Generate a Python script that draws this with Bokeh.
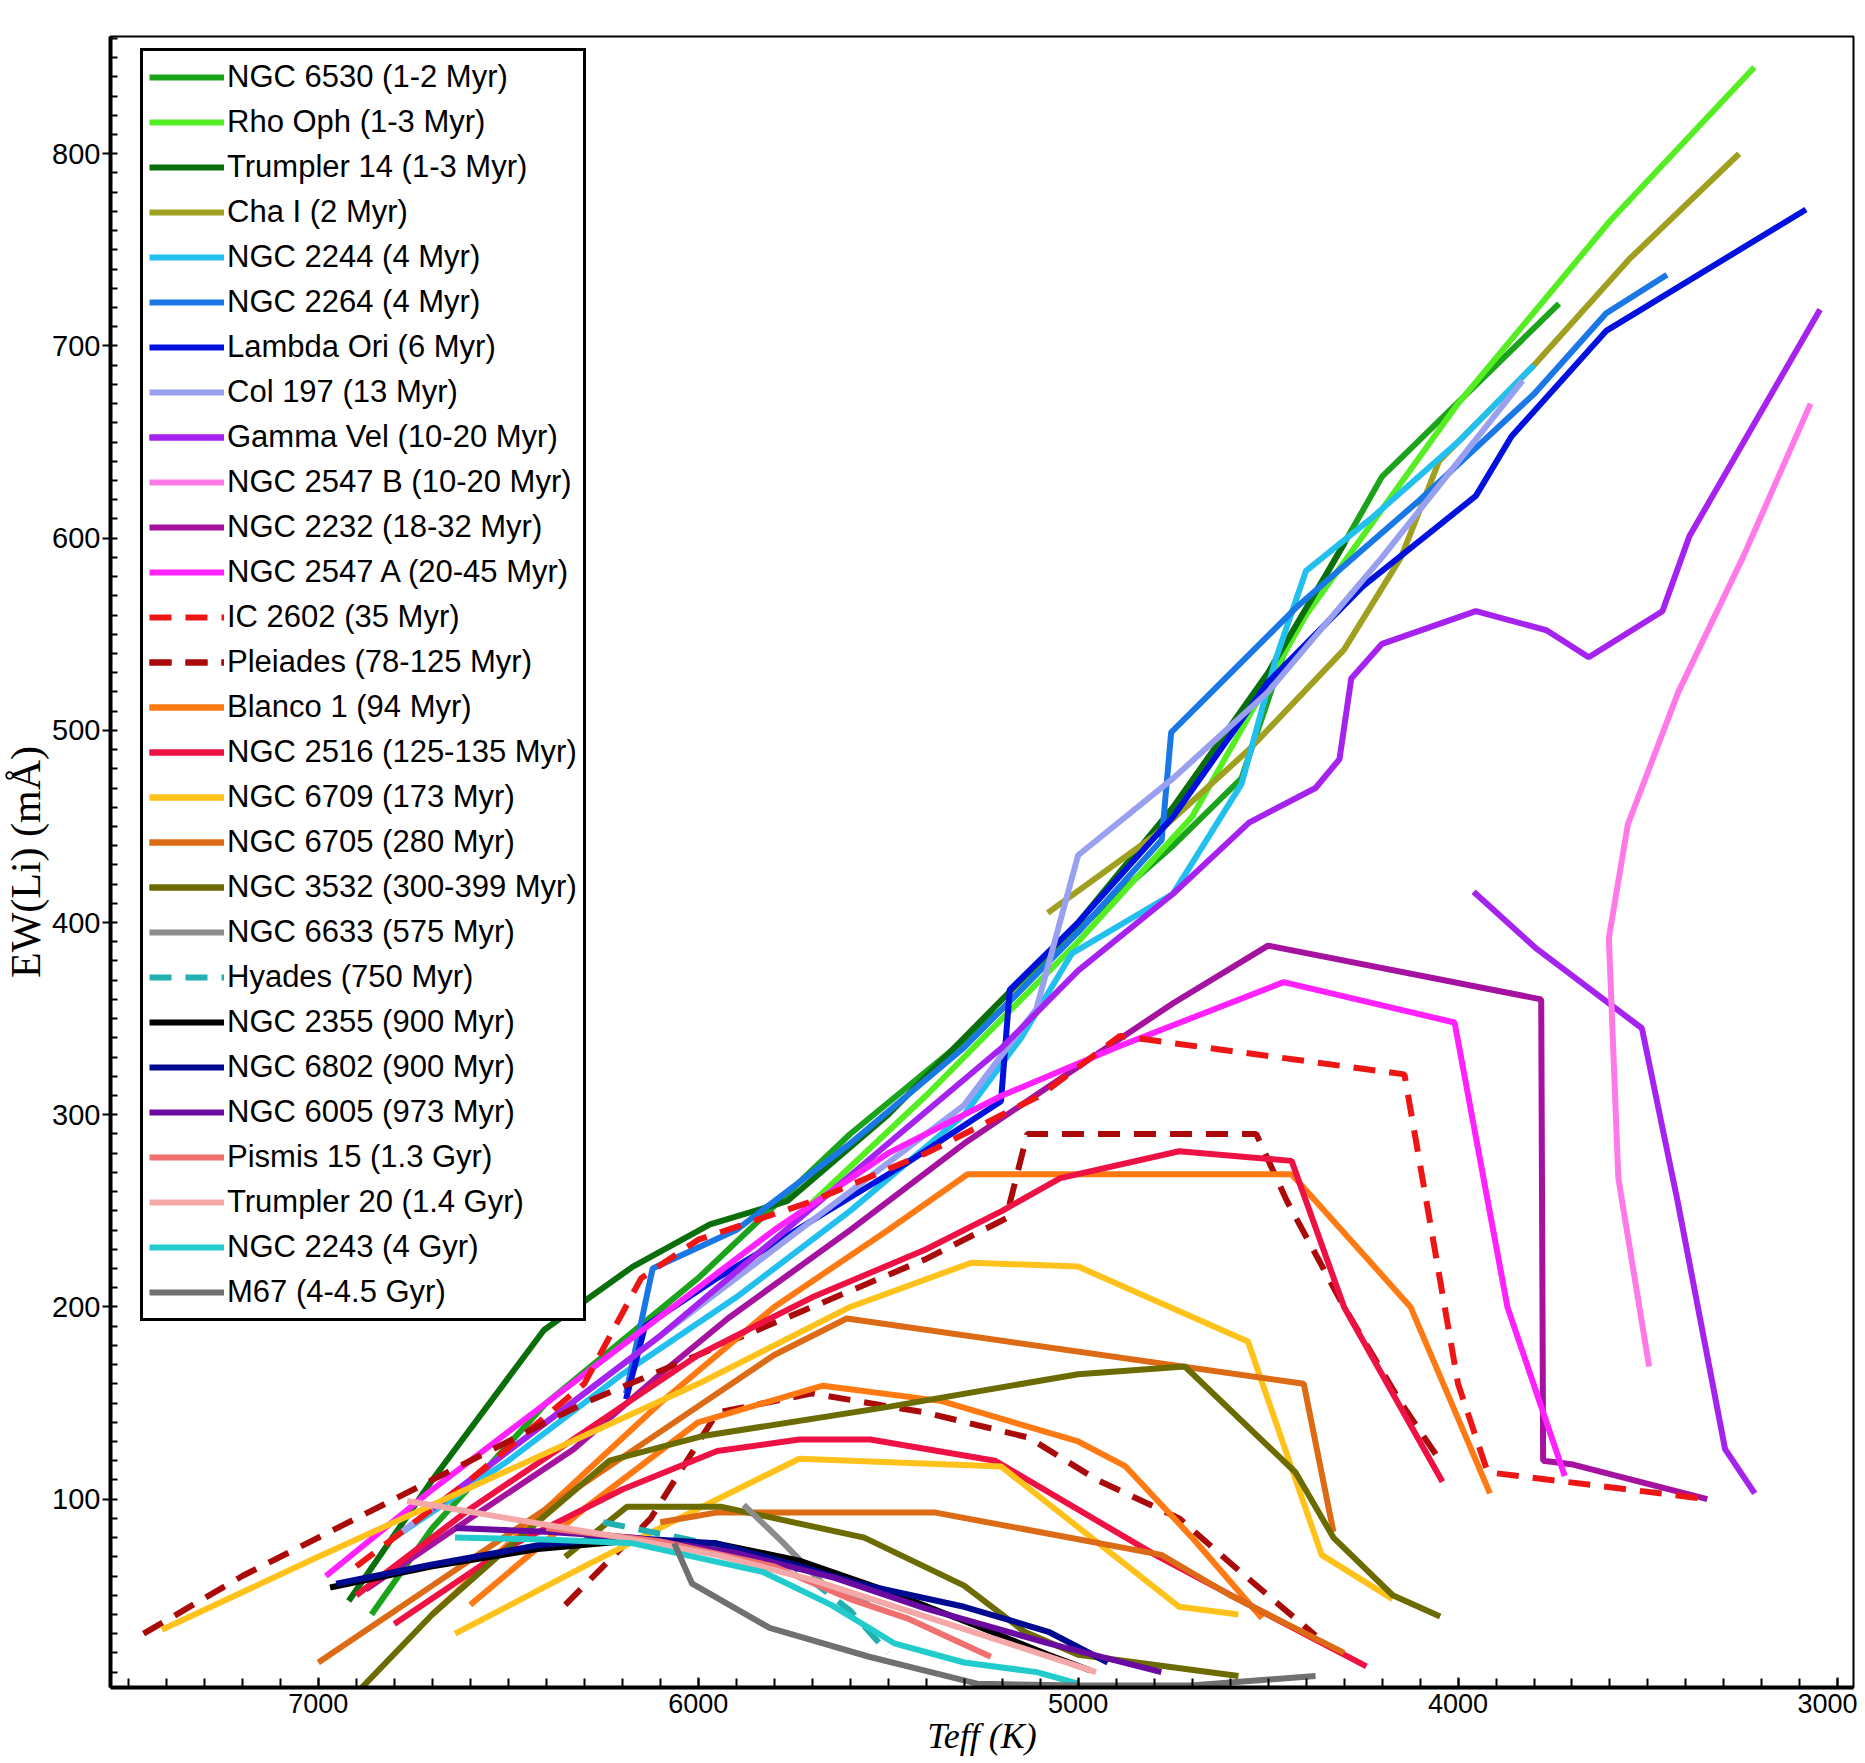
from bokeh.plotting import figure
from bokeh.models import Range1d, SingleIntervalTicker
from bokeh.embed import file_html
from bokeh.resources import INLINE

# ---- data (Teff in K, EW(Li) in mA) ----
ngc6530_t = [6860, 6700, 6400, 6000, 5600, 5200, 4980, 4750, 4570, 4450, 4200, 3734]
ngc6530_ew = [40, 85, 150, 215, 290, 355, 400, 440, 475, 545, 632, 722]
rhooph_t = [5750, 5400, 5000, 4700, 4400, 4000, 3600, 3220]
rhooph_ew = [245, 310, 390, 455, 560, 670, 765, 845]
trumpler14_t = [6920, 6700, 6406, 6172, 5969, 5766, 5500, 5250, 5000, 4750, 4500, 4297]
trumpler14_ew = [47, 110, 188, 221, 243, 255, 300, 350, 400, 460, 530, 598]
chai_t = [5080, 4800, 4550, 4300, 4150, 4050, 3800, 3550, 3260]
chai_ew = [405, 445, 490, 542, 590, 640, 690, 745, 800]
ngc2244_t = [6800, 6500, 6200, 5900, 5600, 5300, 5150, 5016, 4750, 4570, 4480, 4400, 4230, 4000, 3800]
ngc2244_ew = [80, 120, 165, 205, 250, 300, 340, 384, 415, 472, 537, 583, 610, 650, 690]
ngc2264_t = [6190, 6120, 5900, 5600, 5300, 5000, 4780, 4755, 4420, 4100, 3800, 3610, 3450]
ngc2264_ew = [155, 220, 240, 285, 335, 395, 443, 499, 565, 620, 675, 717, 737]
lambdaori_t = [6190, 6140, 5950, 5700, 5450, 5203, 5180, 5000, 4750, 4500, 4250, 3953, 3859, 3609, 3084]
lambdaori_ew = [152, 190, 215, 245, 275, 307, 365, 400, 455, 525, 575, 622, 653, 708, 771]
col197_t = [6800, 6500, 6200, 5900, 5600, 5300, 5110, 5000, 4750, 4500, 4200, 3830]
col197_ew = [80, 125, 170, 215, 260, 305, 355, 435, 475, 520, 590, 682]
gammavel_t = [6700, 6400, 6100, 5800, 5500, 5200, 5000, 4750, 4550, 4375, 4312, 4281, 4200, 3953, 3766, 3656, 3462, 3391, 3047]
gammavel_ew = [95, 140, 185, 235, 285, 335, 375, 415, 452, 470, 485, 527, 545, 562, 552, 538, 562, 601, 719]
gammavel2_t = [3959, 3797, 3516, 3422, 3297, 3219]
gammavel2_ew = [416, 387, 345, 255, 126, 103]
ngc2547b_t = [3072, 3250, 3420, 3553, 3603, 3578, 3497]
ngc2547b_ew = [670, 590, 520, 451, 392, 267, 169]
ngc2232_t = [6875, 6600, 6328, 6100, 5922, 5600, 5300, 5000, 4750, 4500, 3781, 3776, 3697, 3344]
ngc2232_ew = [53, 90, 126, 165, 194, 240, 285, 325, 358, 388, 360, 120, 118, 100]
ngc2547a_t = [6980, 6700, 6400, 6100, 5800, 5500, 5200, 4900, 4459, 4009, 3870, 3719]
ngc2547a_ew = [60, 105, 150, 195, 240, 280, 310, 335, 369, 348, 200, 112]
ic2602_t = [6900, 6600, 6300, 6150, 6000, 5700, 5400, 5100, 4890, 4141, 4000, 3922, 3344]
ic2602_ew = [65, 110, 160, 215, 235, 255, 280, 310, 341, 321, 160, 114, 100]
pleiades_t = [7460, 7200, 6900, 6600, 6300, 6000, 5700, 5400, 5190, 5134, 4531, 4450, 4300, 4150, 4047]
pleiades_ew = [30, 60, 90, 120, 150, 175, 200, 225, 246, 290, 290, 255, 200, 150, 120]
pleiades2_t = [6350, 6125, 5950, 5700, 5400, 5130, 4950, 4734, 4560, 4375]
pleiades2_ew = [45, 90, 145, 155, 145, 132, 110, 90, 60, 29]
blanco1_t = [6700, 6400, 6100, 5800, 5500, 5291, 4438, 4125, 3916]
blanco1_ew = [40, 95, 150, 200, 240, 269, 269, 200, 103]
blanco1b_t = [6600, 6300, 6000, 5672, 5359, 5000, 4875, 4700, 4516]
blanco1b_ew = [45, 95, 140, 159, 151, 130, 117, 80, 38]
ngc2516_t = [6900, 6600, 6300, 6000, 5700, 5400, 5200, 5047, 4734, 4438, 4300, 4041]
ngc2516_ew = [50, 95, 135, 175, 205, 230, 250, 267, 281, 276, 200, 109]
ngc2516b_t = [6800, 6500, 6200, 5950, 5734, 5547, 5219, 4797, 4550, 4241]
ngc2516b_ew = [35, 75, 105, 125, 131, 131, 120, 71, 45, 13]
ngc6709_t = [7412, 7000, 6500, 6000, 5600, 5281, 5000, 4553, 4359, 4172]
ngc6709_ew = [32, 70, 115, 160, 200, 223, 221, 182, 71, 48]
ngc6709b_t = [6640, 6300, 6000, 5734, 5203, 4734, 4578]
ngc6709b_ew = [30, 65, 95, 121, 117, 44, 40]
ngc6705_t = [7000, 6700, 6400, 6100, 5800, 5609, 4406, 4328]
ngc6705_ew = [15, 55, 95, 135, 175, 194, 160, 83]
ngc6705b_t = [6100, 5953, 5375, 4781, 4600, 4450, 4300]
ngc6705b_ew = [88, 93, 93, 71, 50, 35, 20]
ngc3532_t = [6890, 6700, 6500, 6234, 5984, 5500, 5000, 4719, 4428, 4328, 4172, 4047]
ngc3532_ew = [1, 40, 75, 120, 133, 148, 165, 169, 114, 80, 50, 39]
ngc3532b_t = [6350, 6188, 5938, 5563, 5300, 5141, 5000, 4578]
ngc3532b_ew = [70, 96, 96, 80, 55, 31, 19, 8]
ngc6633_t = [5880, 5780, 5672, 5550]
ngc6633_ew = [97, 78, 56, 45]
hyades_t = [6250, 6000, 5750, 5600, 5500]
hyades_ew = [88, 78, 65, 42, 20]
ngc2355_t = [6969, 6700, 6422, 6200, 5953, 5734, 5500, 5266, 5078, 4969]
ngc2355_ew = [54, 65, 74, 78, 77, 68, 52, 34, 19, 11]
ngc6802_t = [6953, 6700, 6422, 6200, 5953, 5750, 5578, 5300, 5078, 4922]
ngc6802_ew = [56, 66, 76, 80, 77, 66, 56, 44, 31, 15]
ngc6005_t = [6640, 6400, 6172, 5900, 5641, 5400, 5078, 4781]
ngc6005_ew = [85, 83, 80, 72, 59, 43, 25, 10]
pismis15_t = [6400, 6100, 5800, 5600, 5450, 5230]
pismis15_ew = [85, 78, 65, 48, 38, 18]
trumpler20_t = [6766, 6500, 6200, 5953, 5700, 5450, 5200, 4953]
trumpler20_ew = [99, 90, 80, 71, 58, 42, 26, 10]
ngc2243_t = [6640, 6400, 6172, 5828, 5650, 5484, 5300, 5109, 5000]
ngc2243_ew = [80, 79, 77, 62, 45, 25, 15, 10, 4]
m67_t = [6063, 6016, 5812, 5550, 5266, 5000, 4703, 4375]
m67_ew = [77, 56, 33, 18, 4, 3, 3, 8]

x_ticks_interval = 1000
y_ticks_interval = 100

# (label, color, dashed, list of (t, ew) branches)
series = [
    ("NGC 6530 (1-2 Myr)", "#1ba31b", False, [(ngc6530_t, ngc6530_ew)]),
    ("Rho Oph (1-3 Myr)", "#55ee22", False, [(rhooph_t, rhooph_ew)]),
    ("Trumpler 14 (1-3 Myr)", "#0a6e0a", False, [(trumpler14_t, trumpler14_ew)]),
    ("Cha I (2 Myr)", "#a0a020", False, [(chai_t, chai_ew)]),
    ("NGC 2244 (4 Myr)", "#22c0ee", False, [(ngc2244_t, ngc2244_ew)]),
    ("NGC 2264 (4 Myr)", "#1a78e6", False, [(ngc2264_t, ngc2264_ew)]),
    ("Lambda Ori (6 Myr)", "#0010dd", False, [(lambdaori_t, lambdaori_ew)]),
    ("Col 197 (13 Myr)", "#99a0f0", False, [(col197_t, col197_ew)]),
    ("Gamma Vel (10-20 Myr)", "#a622ee", False, [(gammavel_t, gammavel_ew), (gammavel2_t, gammavel2_ew)]),
    ("NGC 2547 B (10-20 Myr)", "#ff7ae8", False, [(ngc2547b_t, ngc2547b_ew)]),
    ("NGC 2232 (18-32 Myr)", "#a512a0", False, [(ngc2232_t, ngc2232_ew)]),
    ("NGC 2547 A (20-45 Myr)", "#ff22ff", False, [(ngc2547a_t, ngc2547a_ew)]),
    ("IC 2602 (35 Myr)", "#ee1515", True, [(ic2602_t, ic2602_ew)]),
    ("Pleiades (78-125 Myr)", "#aa0a0a", True, [(pleiades_t, pleiades_ew), (pleiades2_t, pleiades2_ew)]),
    ("Blanco 1 (94 Myr)", "#ff7a12", False, [(blanco1_t, blanco1_ew), (blanco1b_t, blanco1b_ew)]),
    ("NGC 2516 (125-135 Myr)", "#ee1144", False, [(ngc2516_t, ngc2516_ew), (ngc2516b_t, ngc2516b_ew)]),
    ("NGC 6709 (173 Myr)", "#ffc21a", False, [(ngc6709_t, ngc6709_ew), (ngc6709b_t, ngc6709b_ew)]),
    ("NGC 6705 (280 Myr)", "#dd6a14", False, [(ngc6705_t, ngc6705_ew), (ngc6705b_t, ngc6705b_ew)]),
    ("NGC 3532 (300-399 Myr)", "#6b6b00", False, [(ngc3532_t, ngc3532_ew), (ngc3532b_t, ngc3532b_ew)]),
    ("NGC 6633 (575 Myr)", "#8c8c8c", False, [(ngc6633_t, ngc6633_ew)]),
    ("Hyades (750 Myr)", "#22b0b0", True, [(hyades_t, hyades_ew)]),
    ("NGC 2355 (900 Myr)", "#000000", False, [(ngc2355_t, ngc2355_ew)]),
    ("NGC 6802 (900 Myr)", "#000a90", False, [(ngc6802_t, ngc6802_ew)]),
    ("NGC 6005 (973 Myr)", "#6a0aa0", False, [(ngc6005_t, ngc6005_ew)]),
    ("Pismis 15 (1.3 Gyr)", "#f07070", False, [(pismis15_t, pismis15_ew)]),
    ("Trumpler 20 (1.4 Gyr)", "#f5a8a8", False, [(trumpler20_t, trumpler20_ew)]),
    ("NGC 2243 (4 Gyr)", "#22cccc", False, [(ngc2243_t, ngc2243_ew)]),
    ("M67 (4-4.5 Gyr)", "#707070", False, [(m67_t, m67_ew)]),
]

FRAME_H = 1651
p = figure(frame_width=1743, frame_height=FRAME_H, output_backend="svg", toolbar_location=None,
           x_range=Range1d(7547, 2959), y_range=Range1d(2, 861),
           min_border_left=60, min_border_right=4, min_border_top=36, min_border_bottom=40)
p.xgrid.visible = False
p.ygrid.visible = False
p.outline_line_color = "black"
p.outline_line_width = 2
p.background_fill_color = "white"

for label, color, dashed, branches in series:
    for t, ew in branches:
        kw = dict(line_color=color, line_width=6, legend_label=label)
        if dashed:
            kw["line_dash"] = "22 14"
            kw["line_width"] = 6
        p.line(t, ew, **kw)

xa = p.xaxis[0]
xa.ticker = SingleIntervalTicker(interval=x_ticks_interval, num_minor_ticks=10)
xa.axis_label = "Teff (K)"
xa.axis_label_text_font = "Liberation Serif"
xa.axis_label_text_font_style = "italic"
xa.axis_label_text_font_size = "36px"
xa.axis_label_text_color = "black"
xa.axis_label_standoff = 0
xa.major_label_text_font = "Liberation Sans"
xa.major_label_text_font_size = "27px"
xa.major_label_text_color = "black"
xa.major_label_standoff = 6
xa.major_tick_in = 10
xa.major_tick_out = 0
xa.minor_tick_in = 9
xa.minor_tick_out = 0
xa.axis_line_width = 4
xa.major_tick_line_width = 2
xa.minor_tick_line_width = 2

ya = p.yaxis[0]
ya.ticker = SingleIntervalTicker(interval=y_ticks_interval, num_minor_ticks=10)
ya.axis_label = "EW(Li) (mÅ)"
ya.axis_label_text_font = "Liberation Serif"
ya.axis_label_text_font_style = "normal"
ya.axis_label_text_font_size = "42px"
ya.axis_label_text_color = "black"
ya.axis_label_standoff = 0
ya.major_label_text_font = "Liberation Sans"
ya.major_label_text_font_size = "29px"
ya.major_label_text_color = "black"
ya.major_label_standoff = 2
ya.major_tick_in = 0
ya.major_tick_out = 8
ya.minor_tick_in = 7
ya.minor_tick_out = 0
ya.axis_line_width = 4
ya.major_tick_line_width = 2
ya.minor_tick_line_width = 2

N_ITEMS = len(series)
LEG_PAD, LEG_ROW, LEG_SP = 6, 40, 5
leg_h = 2 * LEG_PAD + N_ITEMS * LEG_ROW + (N_ITEMS - 1) * LEG_SP

lg = p.legend[0]
lg.location = (30, FRAME_H - 18 - leg_h)
lg.margin = 0
lg.padding = LEG_PAD
lg.spacing = LEG_SP
lg.glyph_width = 75
lg.glyph_height = LEG_ROW
lg.label_height = LEG_ROW
lg.label_standoff = 3
lg.label_text_font = "Liberation Sans"
lg.label_text_font_size = "31px"
lg.label_text_color = "black"
lg.border_line_color = "black"
lg.border_line_width = 3
lg.border_line_alpha = 1.0
lg.background_fill_color = "white"
lg.background_fill_alpha = 1.0

open("out.html", "w").write(file_html(p, INLINE))
